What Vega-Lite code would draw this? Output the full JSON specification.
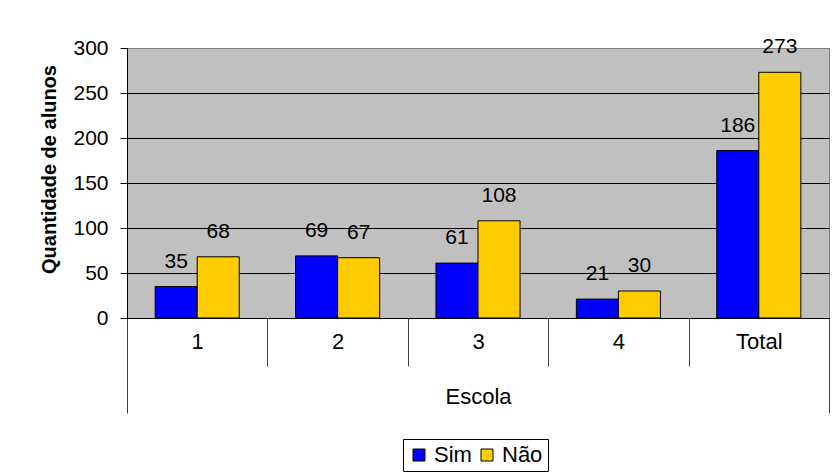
{
  "$schema": "https://vega.github.io/schema/vega-lite/v6.json",
  "autosize": {"type": "none"},
  "width": 702,
  "height": 270,
  "padding": {"left": 127, "top": 48, "right": 4, "bottom": 156},
  "background": "white",
  "config": {
    "font": "Liberation Sans",
    "view": {"fill": "#C0C0C0", "stroke": "#808080", "strokeWidth": 1}
  },
  "data": {
    "values": [
      {"escola": "1", "resp": "Sim", "n": 35},
      {"escola": "1", "resp": "Não", "n": 68},
      {"escola": "2", "resp": "Sim", "n": 69},
      {"escola": "2", "resp": "Não", "n": 67},
      {"escola": "3", "resp": "Sim", "n": 61},
      {"escola": "3", "resp": "Não", "n": 108},
      {"escola": "4", "resp": "Sim", "n": 21},
      {"escola": "4", "resp": "Não", "n": 30},
      {"escola": "Total", "resp": "Sim", "n": 186},
      {"escola": "Total", "resp": "Não", "n": 273}
    ]
  },
  "encoding": {
    "x": {
      "field": "escola", "type": "nominal", "sort": null,
      "scale": {"paddingInner": 0, "paddingOuter": 0},
      "axis": {
        "title": "Escola", "titleFontSize": 22, "titleFontWeight": "normal", "titleColor": "black",
        "titleY": 78, "titleBaseline": "middle",
        "labelAngle": 0, "labelFontSize": 22, "labelColor": "black", "labelBaseline": "middle",
        "labelPadding": {"condition": {"test": "datum.value === 'Total'", "value": -72}, "value": -25},
        "tickBand": "extent",
        "tickSize": {"condition": {"test": "datum.value !== '1' && datum.value !== '2' && datum.value !== '3' && datum.value !== '4'", "value": 95}, "value": 48},
        "tickColor": "#404040",
        "tickWidth": 1,
        "domainColor": "black", "domainWidth": 1, "grid": false
      }
    },
    "xOffset": {
      "field": "resp", "type": "nominal", "sort": ["Sim", "Não"],
      "scale": {"paddingInner": 0, "paddingOuter": 0.67}
    },
    "y": {
      "field": "n", "type": "quantitative",
      "scale": {"domain": [0, 300], "nice": false},
      "axis": {
        "values": [0, 50, 100, 150, 200, 250, 300],
        "title": "Quantidade de alunos", "titleFontSize": 20, "titleFontWeight": "bold", "titleColor": "black",
        "titleAngle": -90, "titleX": -78, "titleY": 121, "titleAlign": "center", "titleBaseline": "middle",
        "labelFontSize": 21, "labelColor": "black", "labelPadding": 12,
        "tickSize": 7, "tickColor": "black", "domainColor": "black",
        "grid": true,
        "gridColor": {"condition": {"test": "datum.value === 300", "value": "#808080"}, "value": "black"},
        "gridWidth": 1
      }
    }
  },
  "layer": [
    {
      "mark": {"type": "bar", "stroke": "black", "strokeWidth": 1},
      "encoding": {
        "color": {
          "field": "resp", "type": "nominal", "sort": ["Sim", "Não"],
          "scale": {"domain": ["Sim", "Não"], "range": ["#0000FF", "#FFCC00"]},
          "legend": {
            "title": null, "orient": "none", "direction": "horizontal",
            "legendX": 276, "legendY": 391,
            "strokeColor": "black", "padding": 5, "fillColor": "white",
            "symbolType": "square", "symbolSize": 144, "symbolStrokeColor": "black", "symbolStrokeWidth": 1,
            "symbolOpacity": 1,
            "labelFontSize": 22, "labelColor": "black", "labelOffset": 4, "columnPadding": 4
          }
        }
      }
    },
    {
      "mark": {"type": "text", "fontSize": 21, "baseline": "alphabetic", "dy": -19, "color": "black"},
      "encoding": {"text": {"field": "n", "type": "quantitative"}}
    }
  ]
}
